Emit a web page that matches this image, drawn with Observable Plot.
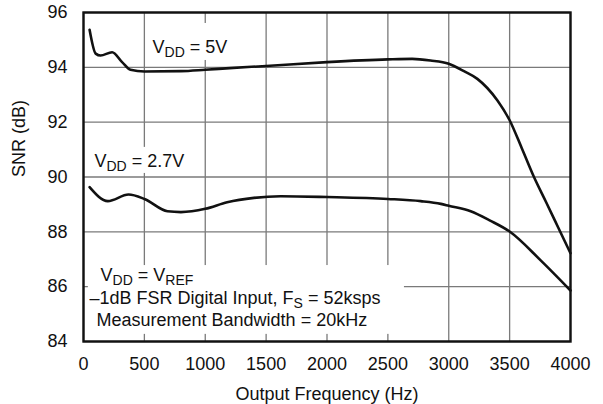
<!DOCTYPE html>
<html>
<head>
<meta charset="utf-8">
<script src="https://cdn.jsdelivr.net/npm/d3@7"></script>
<script src="https://cdn.jsdelivr.net/npm/@observablehq/plot@0.6"></script>
<style>
  html, body { margin: 0; padding: 0; background: #fff; }
  #chart { width: 603px; height: 404px; }
</style>
</head>
<body>
<div id="chart"></div>
<script>
// ---- data ----
const freq5 = [50, 100, 140, 235, 317, 386, 500, 800, 1000, 1200, 1500, 2000, 2500, 2700, 2850, 3000, 3125, 3235, 3400, 3500, 3600, 3700, 3800, 3900, 4000];
const snr5  = [95.37, 94.5, 94.43, 94.55, 94.19, 93.91, 93.85, 93.86, 93.91, 93.97, 94.05, 94.19, 94.29, 94.31, 94.25, 94.13, 93.86, 93.58, 92.79, 92.07, 91.05, 90.0, 89.08, 88.15, 87.22];

const freq27 = [50, 200, 370, 500, 690, 800, 1000, 1180, 1400, 1620, 2000, 2500, 2770, 2935, 3000, 3180, 3340, 3500, 3755, 4000];
const snr27  = [89.63, 89.12, 89.36, 89.2, 88.75, 88.72, 88.84, 89.08, 89.24, 89.3, 89.27, 89.2, 89.12, 89.02, 88.95, 88.75, 88.41, 88.01, 86.96, 85.86];

const xTicks = [0, 500, 1000, 1500, 2000, 2500, 3000, 3500, 4000];
const yTicks = [84, 86, 88, 90, 92, 94, 96];

const xLabel = "Output Frequency (Hz)";
const yLabel = "SNR (dB)";

// annotation texts ({..} = subscript)
const notes = [
  {text: "V{DD} = 5V", f: 567, v: 94.54},
  {text: "V{DD} = 2.7V", f: 90, v: 90.38},
  {text: "V{DD} = V{REF}", f: 140, v: 86.19},
  {text: "\u20131dB FSR Digital Input, F{S} = 52ksps", f: 49, v: 85.35},
  {text: "Measurement Bandwidth = 20kHz", f: 107, v: 84.56}
];
// white backgrounds behind the annotations
const noteBoxes = [
  {f1: 530, f2: 1250, v1: 94.25, v2: 95.6},
  {f1: 40, f2: 840, v1: 90.13, v2: 91.08},
  {f1: 40, f2: 2636, v1: 84.26, v2: 86.77}
];

const s5 = freq5.map((f, i) => ({f, v: snr5[i]}));
const s27 = freq27.map((f, i) => ({f, v: snr27[i]}));

const FONT = "'Liberation Sans', Arial, Helvetica, sans-serif";
const FS = 18;

const plot = Plot.plot({
  width: 603,
  height: 404,
  marginLeft: 83,
  marginRight: 33,
  marginTop: 12,
  marginBottom: 63,
  style: {fontFamily: FONT, fontSize: FS + "px", color: "#111", background: "white"},
  x: {domain: [0, 4000], ticks: xTicks, tickFormat: d => String(d), tickSize: 0, tickPadding: 16, label: null},
  y: {domain: [84, 96], ticks: yTicks, tickFormat: d => String(d), tickSize: 0, tickPadding: 16, label: null},
  marks: [
    Plot.ruleX(xTicks, {stroke: "#7a7a7a", strokeWidth: 1.3}),
    Plot.ruleY(yTicks, {stroke: "#7a7a7a", strokeWidth: 1.3}),
    Plot.rect(noteBoxes, {x1: "f1", x2: "f2", y1: "v1", y2: "v2", fill: "white"}),
    Plot.line(s5, {x: "f", y: "v", curve: "monotone-x", stroke: "#111", strokeWidth: 2.6}),
    Plot.line(s27, {x: "f", y: "v", curve: "monotone-x", stroke: "#111", strokeWidth: 2.6}),
    Plot.frame({stroke: "#111", strokeWidth: 2.4}),
    Plot.text(notes, {x: "f", y: "v", text: "text", textAnchor: "start", lineAnchor: "bottom", fontSize: FS, fill: "#111"}),
    Plot.text([xLabel], {text: d => d, frameAnchor: "bottom", dy: 58, lineAnchor: "bottom", fontSize: FS, fill: "#111"}),
    Plot.text([yLabel], {text: d => d, frameAnchor: "left", dx: -64, rotate: -90, fontSize: FS, fill: "#111"})
  ]
});

// subscripts
plot.querySelectorAll("text").forEach(t => {
  const s = t.textContent;
  if (!s.includes("{")) return;
  t.textContent = "";
  const parts = s.split(/(\{[^}]*\})/);
  let shifted = false;
  for (const p of parts) {
    if (!p) continue;
    const ts = document.createElementNS("http://www.w3.org/2000/svg", "tspan");
    if (p.startsWith("{")) {
      ts.textContent = p.slice(1, -1);
      ts.setAttribute("font-size", "14px");
      if (!shifted) ts.setAttribute("dy", "4");
      shifted = true;
    } else {
      ts.textContent = p;
      if (shifted) { ts.setAttribute("dy", "-4"); shifted = false; }
    }
    t.appendChild(ts);
  }
});

document.getElementById("chart").appendChild(plot);
</script>
</body>
</html>
